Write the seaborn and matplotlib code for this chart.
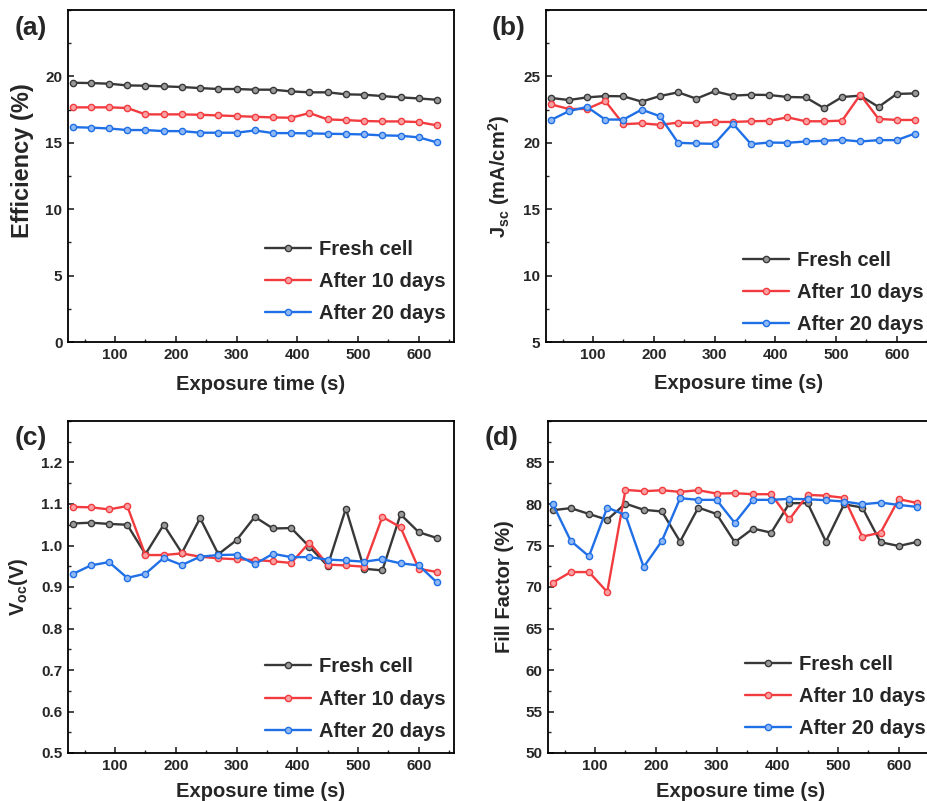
import matplotlib
matplotlib.use("Agg")
import matplotlib.pyplot as plt
from matplotlib.ticker import MultipleLocator
import seaborn as sns

# Data
time_s = [30, 60, 90, 120, 150, 180, 210, 240, 270, 300, 330,
          360, 390, 420, 450, 480, 510, 540, 570, 600, 630]
series_names = ["Fresh cell", "After 10 days", "After 20 days"]

eff_fresh = [19.52, 19.50, 19.45, 19.32, 19.30, 19.25, 19.20, 19.12, 19.05, 19.05, 19.00,
             19.00, 18.87, 18.80, 18.80, 18.65, 18.62, 18.52, 18.42, 18.34, 18.24]
eff_10d = [17.67, 17.67, 17.67, 17.62, 17.14, 17.14, 17.14, 17.11, 17.06, 17.01, 16.96,
           16.91, 16.89, 17.24, 16.76, 16.71, 16.64, 16.61, 16.61, 16.56, 16.31]
eff_20d = [16.18, 16.14, 16.08, 15.96, 15.96, 15.88, 15.88, 15.76, 15.76, 15.76, 15.93,
           15.73, 15.73, 15.71, 15.68, 15.66, 15.63, 15.56, 15.53, 15.41, 15.03]

jsc_fresh = [23.38, 23.22, 23.42, 23.52, 23.50, 23.10, 23.52, 23.80, 23.32, 23.88, 23.55,
             23.62, 23.60, 23.45, 23.42, 22.62, 23.45, 23.55, 22.70, 23.68, 23.72]
jsc_10d = [22.90, 22.55, 22.55, 23.15, 21.40, 21.47, 21.35, 21.52, 21.50, 21.57, 21.57,
           21.62, 21.65, 21.92, 21.62, 21.62, 21.67, 23.62, 21.80, 21.72, 21.72]
jsc_20d = [21.70, 22.38, 22.70, 21.75, 21.75, 22.50, 22.00, 20.00, 19.95, 19.92, 21.45,
           19.90, 20.02, 20.00, 20.10, 20.15, 20.22, 20.10, 20.20, 20.20, 20.70]

voc_fresh = [1.053, 1.055, 1.052, 1.050, 0.979, 1.050, 0.982, 1.066, 0.979, 1.013, 1.069,
             1.041, 1.042, 0.997, 0.951, 1.089, 0.944, 0.940, 1.075, 1.032, 1.018]
voc_10d = [1.093, 1.092, 1.087, 1.095, 0.977, 0.977, 0.981, 0.973, 0.969, 0.967, 0.965,
           0.962, 0.958, 1.007, 0.954, 0.952, 0.949, 1.069, 1.044, 0.944, 0.936]
voc_20d = [0.931, 0.952, 0.960, 0.922, 0.932, 0.970, 0.953, 0.973, 0.977, 0.978, 0.955,
           0.980, 0.972, 0.972, 0.966, 0.964, 0.961, 0.967, 0.957, 0.952, 0.911]

ff_fresh = [79.25, 79.50, 78.80, 78.10, 80.05, 79.30, 79.10, 75.47, 79.57, 78.80, 75.40,
            77.04, 76.55, 80.10, 80.10, 75.47, 79.97, 79.57, 75.40, 74.94, 75.43]
ff_10d = [70.52, 71.80, 71.80, 69.40, 81.70, 81.54, 81.66, 81.46, 81.66, 81.26, 81.30,
          81.18, 81.18, 78.16, 81.10, 81.00, 80.74, 76.07, 76.55, 80.58, 80.13]
ff_20d = [80.05, 75.55, 73.70, 79.57, 78.68, 72.41, 75.55, 80.70, 80.50, 80.50, 77.72,
          80.50, 80.50, 80.62, 80.58, 80.45, 80.30, 79.97, 80.17, 79.89, 79.65]

sns.set_style("ticks")
plt.rcParams['font.family'] = ['Liberation Sans', 'DejaVu Sans']
plt.rcParams['font.weight'] = 'bold'
plt.rcParams['axes.labelweight'] = 'bold'
plt.rcParams['mathtext.default'] = 'regular'
plt.rcParams['xtick.direction'] = 'in'
plt.rcParams['ytick.direction'] = 'in'

colors = ["#383838", "#f23b3f", "#1f6fe6"]
faces = ["#9a9a9a", "#f9a0a2", "#8fb8f4"]

W, H = 927, 801
fig = plt.figure(figsize=(W / 100, H / 100), dpi=100)

# (left px, bottom px) of each axes
panels = [
    dict(pos=(68, 342), data=[eff_fresh, eff_10d, eff_20d], ylim=(0, 25), major=5, minor=2.5,
         ylabel="Efficiency (%)", ysize=17, ycoords=(-0.088, 0.545), xpad=10, tag="(a)",
         tagpos=(15, 28), leg_y=0.045, fmt="{:.0f}"),
    dict(pos=(546, 342), data=[jsc_fresh, jsc_10d, jsc_20d], ylim=(5, 30), major=5, minor=2.5,
         ylabel="J$_{sc}$ (mA/cm$^{2}$)", ysize=14.5, ycoords=None, xpad=9, tag="(b)",
         tagpos=(492, 28), leg_y=0.012, fmt="{:.0f}"),
    dict(pos=(68, 753), data=[voc_fresh, voc_10d, voc_20d], ylim=(0.5, 1.3), major=0.1, minor=0.05,
         ylabel="V$_{oc}$(V)", ysize=14.5, ycoords=None, xpad=7, tag="(c)",
         tagpos=(15, 438), leg_y=0.025, fmt="{:.1f}"),
    dict(pos=(548, 753), data=[ff_fresh, ff_10d, ff_20d], ylim=(50, 90), major=5, minor=2.5,
         ylabel="Fill Factor (%)", ysize=14.5, ycoords=None, xpad=7, tag="(d)",
         tagpos=(485, 438), leg_y=0.032, fmt="{:.0f}"),
]

for p in panels:
    left, bottom = p["pos"]
    ax = fig.add_axes([left / W, (H - bottom) / H, 386 / W, 332 / H])
    for vals, name, c, fc in zip(p["data"], series_names, colors, faces):
        sns.lineplot(x=time_s, y=vals, ax=ax, color=c, label=name, linewidth=1.7,
                     marker='o', markersize=4.5, markerfacecolor=fc,
                     markeredgecolor=c, markeredgewidth=1.0)
    ax.set_xlim(22.5, 658)
    ax.set_ylim(*p["ylim"])
    ax.xaxis.set_major_locator(MultipleLocator(100))
    ax.xaxis.set_minor_locator(MultipleLocator(50))
    ax.yaxis.set_major_locator(MultipleLocator(p["major"]))
    ax.yaxis.set_minor_locator(MultipleLocator(p["minor"]))
    yt = [t for t in ax.get_yticks() if p["ylim"][0] - 1e-9 <= t < p["ylim"][1] - 1e-9]
    ax.set_yticks(yt)
    ax.set_yticklabels([p["fmt"].format(t) for t in yt])
    xt = [100, 200, 300, 400, 500, 600]
    ax.set_xticks(xt)
    ax.set_xticklabels([str(t) for t in xt])
    ax.tick_params(which='major', length=4, width=1.2, labelsize=11, pad=4)
    ax.tick_params(which='minor', length=2.5, width=1.0)
    for s in ax.spines.values():
        s.set_linewidth(1.3)
        s.set_color('black')
    ax.set_xlabel("Exposure time (s)", fontsize=14.5, fontweight='bold', labelpad=p["xpad"])
    ax.set_ylabel(p["ylabel"], fontsize=p["ysize"], fontweight='bold', labelpad=8)
    if p["ycoords"] is not None:
        ax.yaxis.set_label_coords(*p["ycoords"])
    ax.legend(loc='lower left', bbox_to_anchor=(0.5, p["leg_y"]), frameon=False,
              fontsize=14.5, handlelength=2.3, handletextpad=0.4, labelspacing=0.65,
              borderpad=0.2, borderaxespad=0)
    fig.text(p["tagpos"][0] / W, 1 - p["tagpos"][1] / H, p["tag"], fontsize=19,
             fontweight='bold', va='center', ha='left')

fig.savefig("out.png", dpi=100)
